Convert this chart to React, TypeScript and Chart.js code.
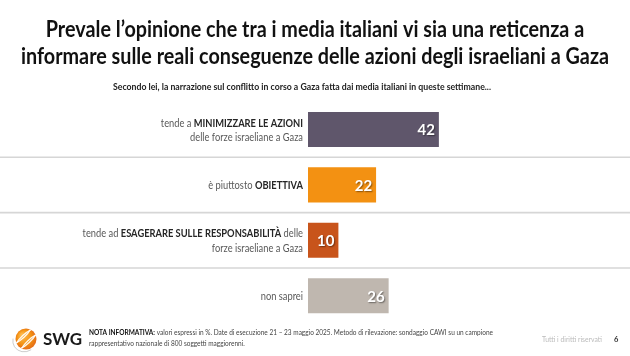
import React, { useEffect, useRef } from "react";
import { Chart, registerables } from "chart.js";

Chart.register(...registerables);

// ---------- data ----------
const categories = ["minimizzare", "obiettiva", "esagerare", "non saprei"];
const values = [42, 22, 10, 26];
const barColors = ["#5F566B", "#F39112", "#C8541B", "#BFB7AF"];
const categoryLabels: [string, boolean][][][] = [
  [[["tende a ", false], ["MINIMIZZARE LE AZIONI", true]], [["delle forze israeliane a Gaza", false]]],
  [[["è piuttosto ", false], ["OBIETTIVA", true]]],
  [[["tende ad ", false], ["ESAGERARE SULLE RESPONSABILITÀ", true], [" delle", false]], [["forze israeliane a Gaza", false]]],
  [[["non saprei", false]]],
];
const titleLines = [
  "Prevale l’opinione che tra i media italiani vi sia una reticenza a",
  "informare sulle reali conseguenze delle azioni degli israeliani a Gaza",
];
const subtitle = "Secondo lei, la narrazione sul conflitto in corso a Gaza fatta dai media italiani in queste settimane...";
const noteLines: [string, boolean][][] = [
  [["NOTA INFORMATIVA:", true], [" valori espressi in %. Date di esecuzione 21 – 23 maggio 2025. Metodo di rilevazione: sondaggio CAWI su un campione", false]],
  [["rappresentativo nazionale di 800 soggetti maggiorenni.", false]],
];
const brand = "SWG";
const rights = "Tutti i diritti riservati";
const pageNumber = "6";

// ---------- text helpers ----------
const FAMILY = "Lato, 'Noto Sans', sans-serif";

function richWidth(ctx: CanvasRenderingContext2D, segs: [string, boolean][], size: number) {
  let w = 0;
  for (const [t, b] of segs) {
    ctx.font = `${b ? "bold " : ""}${size}px ${FAMILY}`;
    w += ctx.measureText(t).width;
  }
  return w;
}

function drawRich(
  ctx: CanvasRenderingContext2D,
  segs: [string, boolean][],
  x: number,
  y: number,
  align: "left" | "right" | "center",
  size: number,
  sx: number,
  color: string,
  boldColor: string
) {
  const w = richWidth(ctx, segs, size) * sx;
  const start = align === "right" ? x - w : align === "center" ? x - w / 2 : x;
  ctx.save();
  ctx.translate(start, y);
  ctx.scale(sx, 1);
  ctx.textAlign = "left";
  ctx.textBaseline = "middle";
  let cx = 0;
  for (const [t, b] of segs) {
    ctx.font = `${b ? "bold " : ""}${size}px ${FAMILY}`;
    ctx.fillStyle = b ? boldColor : color;
    ctx.fillText(t, cx, 0);
    cx += ctx.measureText(t).width;
  }
  ctx.restore();
}

function drawLogo(ctx: CanvasRenderingContext2D, cx: number, cy: number, r: number) {
  ctx.save();
  ctx.strokeStyle = "rgba(150,150,150,0.6)";
  ctx.lineWidth = 0.8;
  ctx.beginPath();
  ctx.ellipse(cx - 1, cy + 1, r + 2, r + 1, -0.6, 1.6, 3.9);
  ctx.stroke();
  const g = ctx.createRadialGradient(cx - r * 0.4, cy - r * 0.4, 1, cx, cy, r * 1.1);
  g.addColorStop(0, "#FDB94A");
  g.addColorStop(0.6, "#F39112");
  g.addColorStop(1, "#E2661A");
  ctx.fillStyle = g;
  ctx.beginPath();
  ctx.arc(cx, cy, r, 0, Math.PI * 2);
  ctx.fill();
  ctx.clip();
  ctx.strokeStyle = "rgba(255,255,255,0.9)";
  ctx.lineWidth = 1.3;
  for (const k of [-0.55, 0, 0.55]) {
    ctx.beginPath();
    ctx.ellipse(cx + k * r * 0.9, cy + k * r * 0.9, r * 1.4, r * 0.45, -0.75, 0, Math.PI * 2);
    ctx.stroke();
  }
  ctx.restore();
}

// ---------- plugin ----------
const overlay = {
  id: "overlay",
  beforeDatasetsDraw(chart: any) {
    const ctx: CanvasRenderingContext2D = chart.ctx;
    const ys = chart.scales.y;
    ctx.save();
    ctx.strokeStyle = "#D6D6D6";
    ctx.lineWidth = 1.6;
    for (let i = 0; i < categories.length - 1; i++) {
      const y = (ys.getPixelForValue(i) + ys.getPixelForValue(i + 1)) / 2;
      ctx.beginPath();
      ctx.moveTo(0, y);
      ctx.lineTo(chart.width, y);
      ctx.stroke();
    }
    ctx.restore();
  },
  afterDatasetsDraw(chart: any) {
    const ctx: CanvasRenderingContext2D = chart.ctx;
    const xs = chart.scales.x;
    const ys = chart.scales.y;
    const W = chart.width;

    // title
    ctx.font = `bold 22px ${FAMILY}`;
    const tsx = 588 / ctx.measureText(titleLines[1]).width;
    titleLines.forEach((line, i) => {
      drawRich(ctx, [[line, true]], W / 2, 30 + i * 27, "center", 22, tsx, "#111", "#111");
    });

    // subtitle
    ctx.font = `bold 8.5px ${FAMILY}`;
    const ssx = 378 / ctx.measureText(subtitle).width;
    drawRich(ctx, [[subtitle, true]], 302, 87, "center", 8.5, ssx, "#222", "#222");

    // category labels
    const lsize = 10.5;
    ctx.font = `${lsize}px ${FAMILY}`;
    const lsx = 113 / ctx.measureText("delle forze israeliane a Gaza").width;
    const labelRight = xs.left - 5;
    categoryLabels.forEach((lines, i) => {
      const cy = ys.getPixelForValue(i) + 1;
      const lh = 14.5;
      lines.forEach((segs, j) => {
        const y = cy + (j - (lines.length - 1) / 2) * lh;
        drawRich(ctx, segs, labelRight, y, "right", lsize, lsx, "#595959", "#262626");
      });
    });

    // value labels
    const meta = chart.getDatasetMeta(0);
    ctx.save();
    ctx.font = `bold 15px ${FAMILY}`;
    ctx.textAlign = "right";
    ctx.textBaseline = "middle";
    ctx.fillStyle = "#FFFFFF";
    ctx.shadowColor = "rgba(0,0,0,0.45)";
    ctx.shadowOffsetX = 1;
    ctx.shadowOffsetY = 1;
    ctx.shadowBlur = 1.5;
    meta.data.forEach((bar: any, i: number) => {
      ctx.fillText(String(values[i]), bar.x - 5, bar.y + 1);
    });
    ctx.restore();

    // footer
    drawLogo(ctx, 26, 339, 10.5);
    ctx.save();
    ctx.font = `bold 17px ${FAMILY}`;
    ctx.fillStyle = "#1a1a1a";
    ctx.textBaseline = "middle";
    ctx.textAlign = "left";
    ctx.fillText(brand, 43, 340);
    ctx.restore();

    const nsize = 7;
    const nsx = 404 / richWidth(ctx, noteLines[0], nsize);
    noteLines.forEach((segs, i) => {
      drawRich(ctx, segs, 89, 333 + i * 11, "left", nsize, nsx, "#444", "#111");
    });

    ctx.font = `7px ${FAMILY}`;
    const rsx = 60 / ctx.measureText(rights).width;
    drawRich(ctx, [[rights, false]], 542, 340, "left", 7, rsx, "#BBBBBB", "#BBBBBB");
    drawRich(ctx, [[pageNumber, true]], 614, 340, "left", 7.5, 1, "#333", "#333");
  },
};

export default function App() {
  const ref = useRef<HTMLCanvasElement | null>(null);
  useEffect(() => {
    document.body.style.margin = "0";
    const canvas = ref.current!;
    const chart = new Chart(canvas, {
      type: "bar",
      data: {
        labels: categories,
        datasets: [
          {
            data: values,
            backgroundColor: barColors,
            borderColor: "rgba(255,255,255,0.35)",
            borderWidth: 1,
            categoryPercentage: 1,
            barPercentage: 0.67,
          },
        ],
      },
      options: {
        indexAxis: "y",
        responsive: false,
        animation: false,
        devicePixelRatio: 1,
        layout: { padding: { left: 308, right: 8, top: 101.8, bottom: 32.6 } },
        plugins: { legend: { display: false }, tooltip: { enabled: false }, title: { display: false } },
        scales: {
          x: { display: false, min: 0, max: 100 },
          y: { display: false },
        },
      },
      plugins: [overlay],
    });
    return () => chart.destroy();
  }, []);
  return (
    <div style={{ position: "fixed", left: 0, top: 0, width: 630, height: 356, background: "#fff" }}>
      <canvas ref={ref} width={630} height={356} style={{ display: "block" }} />
    </div>
  );
}
